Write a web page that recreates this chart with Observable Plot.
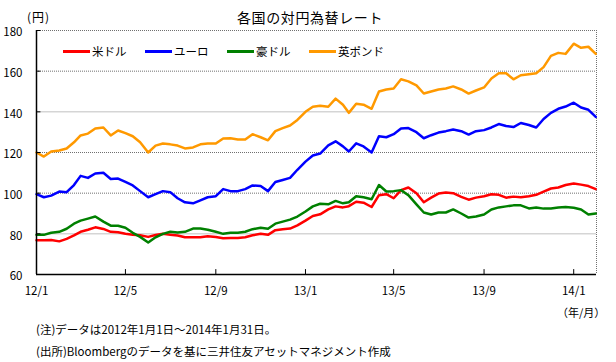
<!DOCTYPE html>
<html><head><meta charset="utf-8">
<script src="https://cdn.jsdelivr.net/npm/d3@7"></script>
<script src="https://cdn.jsdelivr.net/npm/@observablehq/plot@0.6"></script>
<style>
body{margin:0;background:#fff;font-family:"Noto Sans CJK JP",sans-serif;}
#wrap{position:relative;width:616px;height:362px;overflow:hidden;background:#fff;}
#wrap svg{position:absolute;left:0;top:0;}
.t{position:absolute;white-space:nowrap;color:#000;line-height:1;}
.leg{position:absolute;top:46px;left:63px;display:flex;}
.item{display:flex;align-items:center;width:82px;font-size:11.5px;line-height:1;}
.sw{display:inline-block;width:27px;height:3px;margin-right:2px;}
</style></head><body><div id="wrap"></div>
<script>
const dates = [
"2012-01-01","2012-01-11","2012-01-21","2012-02-01","2012-02-11","2012-02-21",
"2012-03-01","2012-03-11","2012-03-21","2012-04-01","2012-04-11","2012-04-21",
"2012-05-01","2012-05-11","2012-05-21","2012-06-01","2012-06-11","2012-06-21",
"2012-07-01","2012-07-11","2012-07-21","2012-08-01","2012-08-11","2012-08-21",
"2012-09-01","2012-09-11","2012-09-21","2012-10-01","2012-10-11","2012-10-21",
"2012-11-01","2012-11-11","2012-11-21","2012-12-01","2012-12-11","2012-12-21",
"2013-01-01","2013-01-11","2013-01-21","2013-02-01","2013-02-11","2013-02-21",
"2013-03-01","2013-03-11","2013-03-21","2013-04-01","2013-04-11","2013-04-21",
"2013-05-01","2013-05-11","2013-05-21","2013-06-01","2013-06-11","2013-06-21",
"2013-07-01","2013-07-11","2013-07-21","2013-08-01","2013-08-11","2013-08-21",
"2013-09-01","2013-09-11","2013-09-21","2013-10-01","2013-10-11","2013-10-21",
"2013-11-01","2013-11-11","2013-11-21","2013-12-01","2013-12-11","2013-12-21",
"2014-01-01","2014-01-11","2014-01-21","2014-01-31"];

const usd = [76.8,76.8,77.0, 76.3,77.5,79.2, 81.0,82.0,83.2, 82.4,81.0,80.8,
 80.0,79.6,79.3, 78.5,79.4,80.0, 79.6,79.2,78.3, 78.3,78.3,78.8,
 78.4,77.8,78.0, 77.9,78.3,79.3, 80.0,79.5,81.8, 82.3,82.6,84.2,
 86.5,88.8,89.6, 92.0,93.5,93.0, 93.6,95.8,95.3, 93.2,99.0,99.5,
 97.5,101.5,102.8, 100.0,95.5,97.8, 99.8,100.3,100.0, 98.2,96.8,97.8,
 98.5,99.5,99.2, 97.8,98.3,98.0, 98.5,99.2,100.8, 102.3,102.8,104.0,
 104.8,104.2,103.5,102.0];
const eur = [99.5,98.0,98.8, 100.8,100.5,104.0, 108.5,107.5,109.7, 110.0,107.0,107.2,
 105.5,103.8,101.0, 98.0,99.5,101.0, 100.5,97.5,95.5, 95.0,96.5,98.0,
 98.5,102.0,101.0, 101.0,102.0,103.8, 103.5,101.0,105.5, 106.5,107.5,111.5,
 115.5,118.5,119.5, 123.5,125.5,123.0, 120.5,124.5,123.0, 120.0,128.0,127.5,
 129.0,131.8,132.0, 130.0,127.0,128.5, 129.8,130.5,131.3, 130.5,128.8,130.5,
 131.0,132.3,134.0, 133.0,132.5,134.5, 133.5,132.3,136.5, 139.5,141.5,142.6,
 144.5,142.1,141.0,137.5];
const aud = [79.5,79.5,80.5, 81.0,82.5,85.0, 86.5,87.5,88.5, 86.0,84.0,84.0,
 83.0,80.5,78.5, 75.7,78.3,80.0, 81.0,80.7,81.0, 82.6,82.6,82.0,
 81.0,80.0,80.5, 80.5,81.0,82.3, 83.0,82.5,85.0, 86.0,87.0,88.5,
 91.0,93.5,94.8, 94.5,96.2,95.0, 95.5,98.5,98.0, 97.0,104.0,100.8,
 101.0,101.5,99.0, 94.5,90.5,89.5, 90.5,90.5,92.0, 90.0,88.0,88.5,
 89.5,92.0,93.0, 93.5,94.0,94.0, 92.5,93.0,92.4, 92.5,93.0,93.2,
 92.8,92.0,89.5,90.0];
const gbp = [120.0,118.0,120.5, 121.0,122.0,125.0, 128.4,129.3,131.8, 132.3,128.4,130.8,
 129.5,128.0,125.0, 120.0,123.4,124.4, 124.0,123.4,122.0, 122.5,124.0,124.4,
 124.4,126.9,127.0, 126.4,126.4,129.0, 127.5,126.0,130.5, 132.0,133.3,136.0,
 140.0,142.5,143.0, 142.5,146.5,143.5, 139.5,144.0,143.5, 141.5,150.0,151.0,
 151.5,156.0,155.0, 153.0,149.0,150.0, 151.0,151.5,152.5, 151.0,149.0,150.5,
 152.0,156.4,159.0, 159.0,156.0,158.0, 158.5,159.0,162.0, 167.5,169.0,168.5,
 173.5,171.5,172.0,168.5];

const seriesNames = ["米ドル","ユーロ","豪ドル","英ポンド"];
const seriesValues = [usd, eur, aud, gbp];
const colors = ["#ff0000","#0000ff","#008000","#ff9900"];

const yTicks = [60,80,100,120,140,160,180];
const solidGrid = [80,140];
const dottedGrid = [100,120,160,180];
const xTickDates = ["2012-01-01","2012-05-01","2012-09-01","2013-01-01","2013-05-01","2013-09-01","2014-01-01"];
const xTickLabels = ["12/1","12/5","12/9","13/1","13/5","13/9","14/1"];
const xDomain = ["2012-01-01","2014-02-01"];

const title = "各国の対円為替レート";
const yUnit = "(円)";
const xUnit = "（年/月）";
const notes = ["(注)データは2012年1月1日～2014年1月31日。","(出所)Bloombergのデータを基に三井住友アセットマネジメント作成"];

const parse = d3.utcParse("%Y-%m-%d");
const rows = [];
seriesNames.forEach((name, i) => seriesValues[i].forEach((v, j) => rows.push({date: parse(dates[j]), value: v, series: name})));
const xStart = parse(xDomain[0]), xEnd = parse(xDomain[1]);
const tickDates = xTickDates.map(parse);
const labelMap = new Map(tickDates.map((d, i) => [+d, xTickLabels[i]]));
const font = '"Noto Sans CJK JP", sans-serif';

const chart = Plot.plot({
  width: 616, height: 362,
  marginLeft: 36, marginRight: 20, marginTop: 30, marginBottom: 88,
  style: {fontFamily: font, fontSize: "11.5px", color: "#000", background: "transparent"},
  x: {type: "utc", domain: [xStart, xEnd]},
  y: {domain: [60, 180]},
  color: {domain: seriesNames, range: colors},
  marks: [
    Plot.ruleY(solidGrid, {stroke: "#c0c0c0", strokeWidth: 1}),
    Plot.ruleY(dottedGrid, {stroke: "#707070", strokeDasharray: "1,1", strokeWidth: 1}),
    Plot.ruleX([xEnd], {stroke: "#707070", strokeDasharray: "1,1", strokeWidth: 1}),
    Plot.lineY(rows, {x: "date", y: "value", z: "series", stroke: "series", strokeWidth: 2.5, strokeLinejoin: "round"}),
    Plot.ruleX([xStart], {stroke: "#000", strokeWidth: 1.5}),
    Plot.ruleY([60], {stroke: "#000", strokeWidth: 1.5}),
    Plot.ruleX(tickDates, {y1: 60, y2: 62.4, stroke: "#000", strokeWidth: 1}),
    Plot.ruleY(yTicks, {x1: xStart, x2: d3.utcDay.offset(xStart, 6), stroke: "#000", strokeWidth: 1}),
    Plot.axisY({ticks: yTicks, tickSize: 0, tickPadding: 14, label: null, dy: 2}),
    Plot.axisX({ticks: tickDates, tickSize: 0, tickPadding: 12, label: null, tickFormat: d => labelMap.get(+d)})
  ]
});
const wrap = document.getElementById("wrap");
wrap.appendChild(chart);

function addText(txt, css) {
  const d = document.createElement("div");
  d.className = "t";
  d.textContent = txt;
  Object.assign(d.style, css);
  wrap.appendChild(d);
  return d;
}
const tt = addText(title, {top: "10px", fontSize: "14px", letterSpacing: "0.6px"});
tt.style.left = (310 - tt.offsetWidth / 2) + "px";
addText(yUnit, {top: "11px", left: "27px", fontSize: "12px", letterSpacing: "1px"});
addText(xUnit, {top: "307px", left: "557px", fontSize: "11px"});
addText(notes[0], {top: "324px", left: "36px", fontSize: "11.5px"});
addText(notes[1], {top: "346px", left: "36px", fontSize: "11.5px"});

const leg = document.createElement("div");
leg.className = "leg";
seriesNames.forEach((n, i) => {
  const it = document.createElement("div");
  it.className = "item";
  const sw = document.createElement("span");
  sw.className = "sw";
  sw.style.background = colors[i];
  const lb = document.createElement("span");
  lb.textContent = n;
  it.appendChild(sw); it.appendChild(lb);
  leg.appendChild(it);
});
wrap.appendChild(leg);
</script></body></html>
